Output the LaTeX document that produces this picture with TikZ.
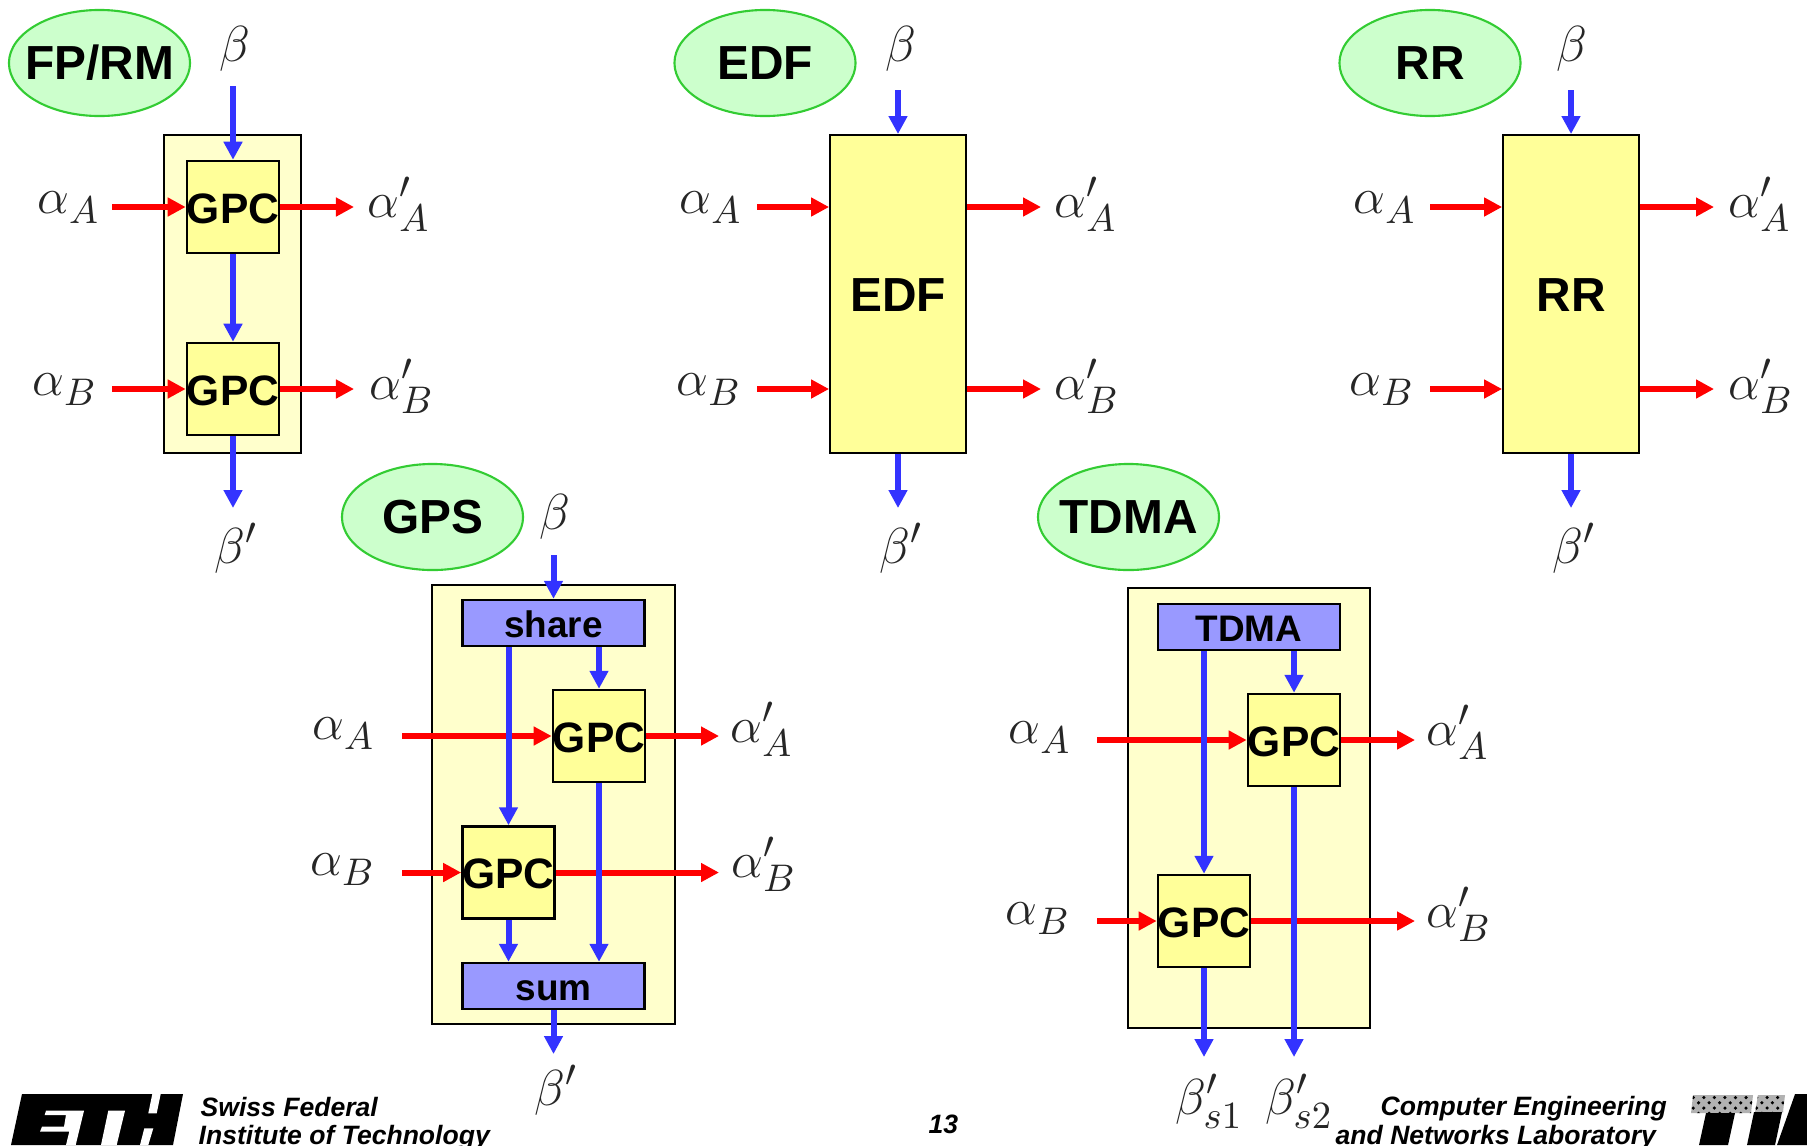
\documentclass[tikz,border=0pt]{standalone}
\usepackage[no-math]{fontspec}
\setmainfont{Liberation Sans}
\usepackage{tikz}
\usetikzlibrary{arrows.meta,positioning,shapes.geometric,patterns}
\DeclareMathSizes{14.4}{14.4}{11}{9}
\definecolor{outerfill}{HTML}{FFFFCC}
\definecolor{gpcfill}{HTML}{FFFF99}
\definecolor{splitfill}{HTML}{9999FF}
\definecolor{ovalfill}{HTML}{CCFFCC}
\definecolor{ovalline}{HTML}{33CC33}
\definecolor{flowblue}{HTML}{3333FF}
\definecolor{flowred}{HTML}{FF0000}
\tikzset{
    oval/.style={ellipse, draw=ovalline, fill=ovalfill, line width=0.6pt, minimum width=1.81cm, minimum height=1.06cm, inner sep=-8pt, text height=0.33cm, text depth=0pt, font=\fontsize{13.6}{16}\bfseries\selectfont},
    outerbox/.style={draw, fill=outerfill, line width=0.5pt, inner sep=0pt},
    gpcbox/.style={draw, fill=gpcfill, line width=0.7pt, minimum width=0.92cm, minimum height=0.92cm, inner sep=0pt, text height=0.32cm, text depth=0pt, font=\fontsize{12.1}{14}\bfseries\selectfont},
    bigbox/.style={draw, fill=gpcfill, line width=0.5pt, minimum width=1.36cm, minimum height=3.18cm, inner sep=0pt, text height=0.35cm, text depth=0pt, font=\fontsize{13.6}{16}\bfseries\selectfont},
    splitbox/.style={draw, fill=splitfill, line width=0.7pt, minimum width=1.82cm, minimum height=0.46cm, inner sep=0pt, text height=0.30cm, text depth=0.02cm, font=\fontsize{10.5}{12}\bfseries\selectfont},
    curve/.style={anchor=base west, inner sep=0pt, text=black!85, font=\Large, execute at begin node={\everymath{\fontdimen16\textfont2=3pt \fontdimen17\textfont2=4.2pt }}},
    footer/.style={anchor=base west, inner sep=0pt, font=\fontsize{7.55}{9}\bfseries\itshape\selectfont},
    redflow/.style={draw=flowred, line width=0.06cm, -{Triangle[length=0.18cm,width=0.18cm]}},
    blueflow/.style={draw=flowblue, line width=0.06cm, -{Triangle[length=0.18cm,width=0.18cm]}},
    halftone/.style={fill=gray!60, postaction={pattern=crosshatch dots}},
}
\begin{document}
\begin{tikzpicture}[x=0.01cm,y=-0.01cm]
    \useasboundingbox (0,0) rectangle (1807,1145);
    \clip (0,0) rectangle (1807,1145);

    % FP/RM
    \node[oval] (fpTitle) at (99.5,63) {FP/RM};
    \node[outerbox, minimum width=1.37cm, minimum height=3.18cm] (fpBox) at (232.5,294) {};
    \node[gpcbox] (fpGpcA) at (233,207) {GPC};
    \node[gpcbox] (fpGpcB) at (233,389) {GPC};
    \node[curve] (fpBeta) at (219,61) {\(\beta\)};
    \node[curve] (fpBetaOut) at (214,563) {\(\beta'\)};
    \node[curve] (fpInA) at (37,213) {\(\alpha_A\)};
    \node[curve] (fpInB) at (32,395) {\(\alpha_B\)};
    \node[curve] (fpOutA) at (367,217) {\(\alpha'_A\)};
    \node[curve] (fpOutB) at (369,399) {\(\alpha'_B\)};
    \coordinate (fpBetaS) at (233,86);
    \coordinate (fpBetaE) at (233,508);
    \coordinate (fpInAS) at (112,207);
    \coordinate (fpInBS) at (112,389);
    \coordinate (fpOutAE) at (354,207);
    \coordinate (fpOutBE) at (354,389);
    \draw[redflow] (fpInAS) -- (fpGpcA.west);
    \draw[redflow] (fpInBS) -- (fpGpcB.west);
    \draw[redflow] (fpGpcA.east) -- (fpOutAE);
    \draw[redflow] (fpGpcB.east) -- (fpOutBE);
    \draw[blueflow] (fpBetaS) -- (fpGpcA.north);
    \draw[blueflow] (fpGpcA.south) -- (fpGpcB.north);
    \draw[blueflow] (fpGpcB.south) -- (fpBetaE);

    % EDF
    \node[oval] (edfTitle) at (765,63) {EDF};
    \node[bigbox] (edfBox) at (898,294) {EDF};
    \node[curve] (edfBeta) at (885,61) {\(\beta\)};
    \node[curve] (edfBetaOut) at (879,563) {\(\beta'\)};
    \node[curve] (edfInA) at (679,213) {\(\alpha_A\)};
    \node[curve] (edfInB) at (676,395) {\(\alpha_B\)};
    \node[curve] (edfOutA) at (1054,217) {\(\alpha'_A\)};
    \node[curve] (edfOutB) at (1054,399) {\(\alpha'_B\)};
    \coordinate (edfBetaS) at (898,90);
    \coordinate (edfBetaE) at (898,508);
    \coordinate (edfInAS) at (757,207);
    \coordinate (edfInBS) at (757,389);
    \coordinate (edfOutAE) at (1041,207);
    \coordinate (edfOutBE) at (1041,389);
    \draw[redflow] (edfInAS) -- (edfInAS -| edfBox.west);
    \draw[redflow] (edfInBS) -- (edfInBS -| edfBox.west);
    \draw[redflow] (edfOutAE -| edfBox.east) -- (edfOutAE);
    \draw[redflow] (edfOutBE -| edfBox.east) -- (edfOutBE);
    \draw[blueflow] (edfBetaS) -- (edfBox.north);
    \draw[blueflow] (edfBox.south) -- (edfBetaE);

    % RR
    \node[oval] (rrTitle) at (1430,63) {RR};
    \node[bigbox] (rrBox) at (1571,294) {RR};
    \node[curve] (rrBeta) at (1556,61) {\(\beta\)};
    \node[curve] (rrBetaOut) at (1552,563) {\(\beta'\)};
    \node[curve] (rrInA) at (1353,213) {\(\alpha_A\)};
    \node[curve] (rrInB) at (1349,395) {\(\alpha_B\)};
    \node[curve] (rrOutA) at (1728,217) {\(\alpha'_A\)};
    \node[curve] (rrOutB) at (1728,399) {\(\alpha'_B\)};
    \coordinate (rrBetaS) at (1571,90);
    \coordinate (rrBetaE) at (1571,508);
    \coordinate (rrInAS) at (1430,207);
    \coordinate (rrInBS) at (1430,389);
    \coordinate (rrOutAE) at (1714,207);
    \coordinate (rrOutBE) at (1714,389);
    \draw[redflow] (rrInAS) -- (rrInAS -| rrBox.west);
    \draw[redflow] (rrInBS) -- (rrInBS -| rrBox.west);
    \draw[redflow] (rrOutAE -| rrBox.east) -- (rrOutAE);
    \draw[redflow] (rrOutBE -| rrBox.east) -- (rrOutBE);
    \draw[blueflow] (rrBetaS) -- (rrBox.north);
    \draw[blueflow] (rrBox.south) -- (rrBetaE);

    % GPS
    \node[oval] (gpsTitle) at (432.5,517) {GPS};
    \node[outerbox, minimum width=2.43cm, minimum height=4.39cm] (gpsBox) at (553.5,804.5) {};
    \node[splitbox] (gpsShare) at (553.5,623) {share};
    \node[splitbox] (gpsSum) at (553.5,986) {sum};
    \node[gpcbox] (gpsGpcA) at (599,736) {GPC};
    \node[gpcbox] (gpsGpcB) at (508.5,872.5) {GPC};
    \node[curve] (gpsBeta) at (539,529) {\(\beta\)};
    \node[curve] (gpsBetaOut) at (534,1105) {\(\beta'\)};
    \node[curve] (gpsInA) at (312,739) {\(\alpha_A\)};
    \node[curve] (gpsInB) at (310,875) {\(\alpha_B\)};
    \node[curve] (gpsOutA) at (730,742) {\(\alpha'_A\)};
    \node[curve] (gpsOutB) at (731,877) {\(\alpha'_B\)};
    \coordinate (gpsBetaS) at (553.5,555);
    \coordinate (gpsBetaE) at (553.5,1054);
    \coordinate (gpsInAS) at (402,736);
    \coordinate (gpsInBS) at (402,872.5);
    \coordinate (gpsOutAE) at (719,736);
    \coordinate (gpsOutBE) at (719,872.5);
    \draw[redflow] (gpsInAS) -- (gpsGpcA.west);
    \draw[redflow] (gpsInBS) -- (gpsGpcB.west);
    \draw[redflow] (gpsGpcA.east) -- (gpsOutAE);
    \draw[redflow] (gpsGpcB.east) -- (gpsOutBE);
    \draw[blueflow] (gpsBetaS) -- (gpsShare.north);
    \draw[blueflow] (gpsShare.south -| gpsGpcB.north) -- (gpsGpcB.north);
    \draw[blueflow] (gpsShare.south -| gpsGpcA.north) -- (gpsGpcA.north);
    \draw[blueflow] (gpsGpcB.south) -- (gpsGpcB.south |- gpsSum.north);
    \draw[blueflow] (gpsGpcA.south) -- (gpsGpcA.south |- gpsSum.north);
    \draw[blueflow] (gpsSum.south) -- (gpsBetaE);

    % TDMA
    \node[oval] (tdmaTitle) at (1128.5,517) {TDMA};
    \node[outerbox, minimum width=2.42cm, minimum height=4.40cm] (tdmaBox) at (1249,808) {};
    \node[splitbox] (tdmaShare) at (1249,627) {TDMA};
    \node[gpcbox] (tdmaGpcA) at (1294,740) {GPC};
    \node[gpcbox] (tdmaGpcB) at (1204,921) {GPC};
    \node[curve] (tdmaBetaA) at (1175,1114) {\(\beta'_{s1}\)};
    \node[curve] (tdmaBetaB) at (1265,1114) {\(\beta'_{s2}\)};
    \node[curve] (tdmaInA) at (1008,743) {\(\alpha_A\)};
    \node[curve] (tdmaInB) at (1005,924) {\(\alpha_B\)};
    \node[curve] (tdmaOutA) at (1426,745) {\(\alpha'_A\)};
    \node[curve] (tdmaOutB) at (1426,927) {\(\alpha'_B\)};
    \coordinate (tdmaBetaAE) at (1204,1057);
    \coordinate (tdmaBetaBE) at (1294,1057);
    \coordinate (tdmaInAS) at (1097,740);
    \coordinate (tdmaInBS) at (1097,921);
    \coordinate (tdmaOutAE) at (1415,740);
    \coordinate (tdmaOutBE) at (1415,921);
    \draw[redflow] (tdmaInAS) -- (tdmaGpcA.west);
    \draw[redflow] (tdmaInBS) -- (tdmaGpcB.west);
    \draw[redflow] (tdmaGpcA.east) -- (tdmaOutAE);
    \draw[redflow] (tdmaGpcB.east) -- (tdmaOutBE);
    \draw[blueflow] (tdmaShare.south -| tdmaGpcB.north) -- (tdmaGpcB.north);
    \draw[blueflow] (tdmaShare.south -| tdmaGpcA.north) -- (tdmaGpcA.north);
    \draw[blueflow] (tdmaGpcB.south) -- (tdmaBetaAE);
    \draw[blueflow] (tdmaGpcA.south) -- (tdmaBetaBE);

    % footer
    \node[footer] (swiss) at (200,1116) {Swiss Federal};
    \node[footer] (institute) at (198,1144) {Institute of Technology};
    \node[footer] (pageNo) at (928,1133) {13};
    \node[footer] (computer) at (1380,1115) {Computer Engineering};
    \node[footer] (networks) at (1335,1144) {and Networks Laboratory};

    \fill (22,1094) -- (183,1094) -- (173,1145) -- (11,1145) -- cycle;
    \fill[white] (46,1110.7) -- (84,1110.7) -- (75.7,1145) -- (66,1145) -- (69.3,1131.7) -- (40,1131.7) -- (42,1126.7) -- (64,1126.7) -- (66,1115) -- (44.7,1115) -- cycle;
    \fill[white] (108.3,1110.7) -- (125,1110.7) -- (116.7,1145) -- (101,1145) -- cycle;
    \fill[white] (152.3,1094) -- (160.7,1094) -- (156.7,1113.3) -- (148.3,1113.3) -- cycle;
    \fill[white] (144.3,1128.3) -- (153.3,1128.3) -- (148.3,1145) -- (140,1145) -- cycle;

    \path[halftone] (1693,1095) -- (1753,1095) -- (1751,1113) -- (1691,1113) -- cycle;
    \path[halftone] (1758,1095) -- (1785,1095) -- (1783,1112) -- (1755,1112) -- cycle;
    \fill (1706,1113) -- (1735,1113) -- (1728,1145) -- (1699,1145) -- cycle;
    \fill (1754,1112) -- (1782,1112) -- (1775,1145) -- (1747,1145) -- cycle;
    \fill (1795,1094) -- (1807,1094) -- (1807,1145) -- (1777,1145) -- cycle;
\end{tikzpicture}
\end{document}
